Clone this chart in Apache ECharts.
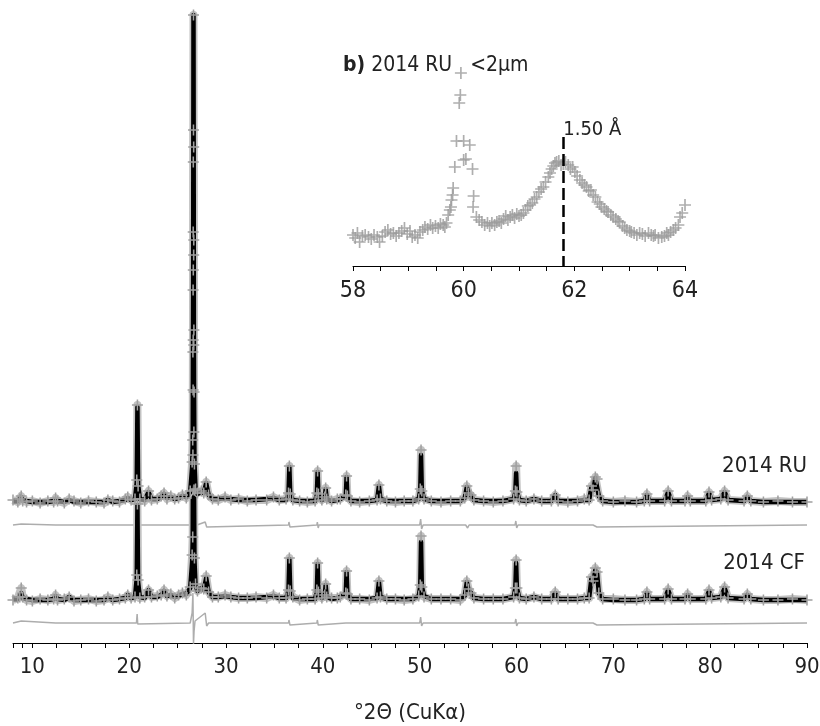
<!DOCTYPE html>
<html>
<head>
<meta charset="utf-8">
<script src="https://cdn.jsdelivr.net/npm/echarts@6/dist/echarts.min.js"></script>
<style>
html, body { margin: 0; padding: 0; background: #fff; }
#xrd { width: 820px; height: 726px; }
</style>
</head>
<body>
<div id="xrd"></div>
<script>
// baselines of the stacked patterns (y units = px above the x axis)
const RU_BASE = 141, CF_BASE = 43, RU_DIFF_BASE = 118, CF_DIFF_BASE = 20;

// main pattern, °2θ positions
const twoTheta = [8.0, 8.5, 8.7, 8.85, 9.0, 9.4, 10.0, 10.8, 11.6, 12.2, 12.4, 12.6, 13.3, 13.8, 14.3, 15.0, 15.8, 16.6, 17.4, 17.8, 18.3, 19.0, 19.6, 19.85, 20.2, 20.6,
  20.78, 20.85, 20.92, 21.1, 21.6, 22.0, 22.3, 22.9, 23.3, 23.6, 23.9, 24.3, 24.7, 25.1, 25.5, 25.9, 26.3,
  26.5, 26.56, 26.58, 26.6, 26.61, 26.62, 26.64, 26.66, 26.67, 26.68, 26.7, 26.74, 26.85, 27.05, 27.45, 27.7, 27.95, 28.2, 28.6,
  29.2, 29.9, 30.5, 31.3, 32.2, 33.1, 34.2, 34.9, 35.5, 36.2, 36.45, 36.54, 36.63, 36.9, 37.6, 38.4, 39.2, 39.38, 39.46, 39.54, 39.9,
  40.2, 40.29, 40.4, 40.9, 41.5, 41.8, 42.37, 42.45, 42.53, 42.9, 43.8, 44.8, 45.6, 45.79, 45.95, 46.6, 47.5, 48.4, 49.3, 49.9,
  50.06, 50.14, 50.22, 50.45, 51.2, 52.2, 53.2, 54.2, 54.65, 54.87, 55.05, 55.3, 55.6, 56.6, 57.6, 58.6, 59.7, 59.88, 59.96, 60.04,
  60.3, 61.0, 61.8, 62.6, 63.6, 64.0, 64.3, 65.3, 66.3, 67.0, 67.5, 67.74, 67.9, 68.14, 68.32, 68.5, 68.9, 70.0, 71.2, 72.4,
  73.2, 73.47, 73.75, 75.3, 75.66, 76.0, 77.4, 77.67, 77.95, 79.55, 79.88, 80.15, 81.1, 81.49, 81.85, 83.5, 83.84, 84.2,
  85.5, 87.0, 88.5, 90.0];

const ruCalc = [1, 1, 2, 5, 2, 1, 0, 0, 0, 1, 3, 1, 0, 2, 0, 0, 0, 0, 0, 2, 0, 1, 2, 4, 2, 3,
  20, 95, 18, 3, 2, 10, 3, 3, 5, 8, 4, 5, 3, 4, 6, 5, 10,
  35, 60, 144, 207, 274, 329, 487, 350, 259, 172, 110, 40, 14, 8, 10, 9, 19, 7, 3,
  3, 4, 3, 2, 2, 2, 3, 4, 2, 2, 8, 35, 8, 2, 1, 1, 1, 8, 30, 8, 2,
  4, 13, 3, 1, 2, 3, 6, 25, 6, 1, 1, 1, 2, 16, 3, 1, 1, 1, 1, 3,
  12, 47, 12, 3, 1, 1, 1, 1, 4, 15, 9, 6, 2, 1, 1, 1, 3, 10, 29, 10,
  2, 1, 3, 1, 1, 7, 1, 1, 1, 2, 2, 15, 12, 24, 22, 6, 1, 0, 0, 0,
  1, 7, 1, 1, 10, 1, 1, 5, 1, 1, 9, 2, 3, 10, 2, 1, 5, 1,
  0, 0, 0, 0];

const ruObs = [2, 0, 3, 6, 1, 0, 1, -1, 1, 0, 4, 1, -1, 3, 1, -1, 1, 0, -1, 2, 1, 0, 3, 5, 2, 3,
  22, 97, 16, 3, 1, 11, 2, 3, 6, 9, 3, 6, 3, 4, 7, 4, 11,
  40, 62, 150, 212, 270, 340, 487, 355, 262, 172, 110, 38, 13, 9, 11, 9, 20, 7, 3,
  2, 5, 2, 3, 1, 2, 2, 5, 2, 3, 9, 36, 8, 2, 1, 0, 1, 9, 31, 8, 2,
  5, 14, 3, 1, 3, 3, 7, 26, 6, 1, 0, 1, 2, 17, 3, 1, 0, 1, 1, 3,
  13, 52, 11, 3, 1, 0, 1, 1, 4, 16, 9, 7, 2, 1, 0, 1, 3, 11, 36, 10,
  2, 1, 3, 1, 1, 7, 1, 0, 1, 3, 2, 16, 12, 25, 23, 6, 1, 0, 1, 0,
  1, 8, 1, 1, 11, 1, 1, 6, 1, 1, 10, 2, 3, 11, 2, 1, 6, 1,
  0, 1, 0, 0];

const cfCalc = [1, 1, 2, 7, 2, 1, 0, 0, 0, 1, 4, 1, 0, 3, 0, 0, 0, 0, 0, 2, 0, 1, 2, 5, 2, 3,
  22, 95, 18, 3, 2, 10, 3, 3, 5, 9, 4, 5, 3, 4, 6, 6, 12,
  38, 60, 140, 200, 265, 320, 470, 340, 250, 170, 108, 40, 15, 9, 12, 10, 22, 8, 3,
  3, 4, 3, 2, 2, 2, 3, 4, 2, 2, 9, 41, 9, 2, 1, 1, 1, 9, 36, 9, 2,
  5, 15, 3, 1, 2, 3, 7, 28, 7, 1, 1, 1, 2, 18, 3, 1, 1, 1, 1, 4,
  14, 58, 14, 4, 1, 1, 1, 1, 4, 18, 10, 7, 2, 1, 1, 1, 3, 12, 37, 12,
  2, 1, 3, 1, 1, 7, 1, 1, 1, 2, 2, 22, 18, 30, 27, 7, 1, 0, 0, 0,
  1, 7, 1, 1, 10, 1, 1, 5, 1, 1, 9, 2, 3, 12, 2, 1, 5, 1,
  0, 0, 0, 0];

const cfObs = [0, 2, 3, 12, 3, 0, -1, 1, 0, 1, 5, 0, 1, 3, -1, 0, 1, -1, 0, 3, 0, 1, 2, 5, 2, 3,
  25, 96, 20, 2, 3, 10, 3, 4, 5, 10, 4, 6, 2, 5, 7, 5, 13,
  45, 63, 145, 210, 260, 330, 470, 345, 255, 168, 110, 42, 16, 9, 12, 11, 24, 8, 3,
  3, 5, 3, 2, 2, 3, 2, 5, 2, 2, 10, 42, 9, 3, 0, 1, 1, 10, 37, 8, 2,
  5, 16, 3, 2, 2, 3, 7, 29, 6, 1, 1, 0, 2, 19, 3, 1, 1, 0, 1, 4,
  15, 64, 13, 3, 1, 1, 1, 0, 5, 19, 11, 7, 2, 1, 1, 1, 3, 12, 40, 12,
  2, 1, 3, 1, 1, 8, 1, 1, 1, 2, 2, 23, 19, 32, 28, 7, 1, 1, 0, 0,
  1, 8, 1, 1, 11, 1, 1, 6, 1, 1, 10, 2, 3, 13, 2, 1, 6, 1,
  0, 0, 1, 0];

// difference curves
const diffTheta = [8.0, 8.85, 12.4, 20.0, 20.75, 20.82, 20.88, 21.0, 26.3, 26.5, 26.58, 26.64, 26.7, 26.8, 27.0, 27.85, 28.0, 28.2,
  36.45, 36.5, 36.6, 36.7, 39.38, 39.43, 39.52, 39.6, 42.37, 42.42, 42.5, 42.6, 45.7, 45.76, 45.84, 45.95,
  50.0, 50.1, 50.2, 50.35, 54.75, 54.84, 54.95, 55.1, 59.85, 59.93, 60.02, 60.15, 67.9, 68.1, 68.3, 68.5, 90.0];
const ruDiff = [0, 1, 0, 0, 0, 8, -3, 0, 0, 6, 15, -35, -8, 3, 0, 3, -2, 0,
  0, 3, -2, 0, 0, 3, -3, 0, 0, 2, -2, 0, 0, 2, -2, 0,
  0, 6, -4, 0, 0, 2, -3, 0, 0, 4, -3, 0, 0, 2, -2, 0, 0];
const cfDiff = [0, 2, 0, 0, 0, 9, -1, 0, 0, 10, 30, -21, -8, 2, 0, 10, -3, 0,
  0, 3, -2, 0, 0, 3, -2, 0, 0, 2, -2, 0, 0, 2, -2, 0,
  0, 6, -3, 0, 0, 2, -2, 0, 0, 4, -3, 0, 0, 2, -2, 0, 0];

// inset b) 2014 RU <2um, °2θ and counts (px above its axis)
const insetTheta = [58.00, 58.04, 58.08, 58.12, 58.17, 58.22, 58.28, 58.33, 58.38, 58.44, 58.48, 58.53, 58.58, 58.63, 58.68, 58.73,
  58.78, 58.83, 58.88, 58.93, 58.98, 59.03, 59.07, 59.12, 59.17, 59.21, 59.26, 59.30, 59.35, 59.40, 59.44, 59.49, 59.54, 59.58,
  59.63, 59.66, 59.69, 59.72, 59.75, 59.77, 59.78, 59.80, 59.81, 59.84, 59.87, 59.92, 59.94, 59.95, 60.00, 60.00, 60.04, 60.11,
  60.16, 60.17, 60.18, 60.23, 60.28, 60.33, 60.38, 60.43, 60.47, 60.51, 60.56, 60.60, 60.64, 60.68, 60.72, 60.76, 60.80, 60.84,
  60.88, 60.92, 60.96, 61.00, 61.04, 61.08, 61.12, 61.16, 61.20, 61.24, 61.28, 61.32, 61.36, 61.40, 61.44, 61.48, 61.53, 61.56,
  61.59, 61.62, 61.65, 61.68, 61.72, 61.76, 61.80, 61.84, 61.89, 61.93, 61.97, 62.01, 62.05, 62.10, 62.14, 62.18, 62.22, 62.26,
  62.30, 62.34, 62.38, 62.42, 62.46, 62.49, 62.54, 62.58, 62.61, 62.66, 62.70, 62.75, 62.79, 62.82, 62.87, 62.91, 62.95, 63.00,
  63.03, 63.08, 63.13, 63.18, 63.23, 63.28, 63.34, 63.39, 63.43, 63.46, 63.52, 63.58, 63.63, 63.67, 63.70, 63.74, 63.79, 63.83,
  63.88, 63.91, 63.95, 64.00];
const insetCounts = [31, 28, 33, 24, 30, 31, 29, 27, 31, 29, 24, 30, 34, 36, 32, 33,
  30, 33, 35, 38, 32, 35, 29, 31, 28, 34, 36, 39, 37, 41, 38, 40, 38, 42,
  41, 39, 43, 51, 56, 59, 66, 71, 78, 99, 125, 163, 171, 193, 125, 106, 107, 121,
  97, 59, 70, 49, 46, 44, 41, 43, 40, 43, 41, 44, 45, 43, 47, 50, 46, 49,
  51, 48, 52, 50, 51, 53, 56, 60, 61, 63, 67, 69, 74, 77, 79, 84, 89, 93,
  97, 100, 103, 104, 105, 101, 102, 104, 101, 97, 99, 94, 90, 86, 83, 81, 79, 75,
  76, 71, 69, 64, 62, 59, 57, 55, 54, 51, 49, 47, 45, 44, 40, 38, 36, 35,
  34, 33, 31, 33, 32, 30, 33, 31, 30, 31, 28, 29, 30, 33, 31, 34, 36, 38,
  41, 49, 53, 61];

const mainTicks = [8, 9, 10, 12.5, 15, 17.5, 20, 22.5, 25, 27.5, 30, 32.5, 35, 37.5, 40, 42.5, 45, 47.5, 50,
  52.5, 55, 57.5, 60, 62.5, 65, 67.5, 70, 72.5, 75, 77.5, 80, 82.5, 85, 87.5, 90];
const mainLabels = [10, 20, 30, 40, 50, 60, 70, 80, 90];
const insetLabels = [58, 60, 62, 64];

const FONT = '"Liberation Sans Narrow", "DejaVu Sans Condensed", "Roboto", sans-serif';
const CROSS = 'path://M4.3,0h1.4v4.3h4.3v1.4h-4.3v4.3h-1.4v-4.3h-4.3v-1.4h4.3z';

function shift(xs, ys, off) {
  return xs.map((x, i) => [x, ys[i] + off]);
}

function obsSeries(ys, off) {
  return {
    type: 'line', xAxisIndex: 0, yAxisIndex: 0,
    data: shift(twoTheta, ys, off),
    symbol: CROSS, symbolSize: 11, showSymbol: true,
    itemStyle: { color: '#a0a0a0' },
    lineStyle: { color: '#c2c2c2', width: 8, join: 'round' },
    silent: true
  };
}
function calcSeries(ys, off) {
  return {
    type: 'line', xAxisIndex: 0, yAxisIndex: 0,
    data: shift(twoTheta, ys, off),
    showSymbol: false,
    lineStyle: { color: '#000', width: 4.5, join: 'round' },
    silent: true
  };
}
function diffSeries(ys, off) {
  return {
    type: 'line', xAxisIndex: 0, yAxisIndex: 0,
    data: shift(diffTheta, ys, off),
    showSymbol: false,
    lineStyle: { color: '#adadad', width: 1.5 },
    silent: true
  };
}

var myChart = echarts.init(document.getElementById('xrd'));
myChart.setOption({
  animation: false,
  backgroundColor: '#fff',
  textStyle: { fontFamily: FONT },
  title: {
    text: '{b|b)} 2014 RU   <2μm',
    left: 338, top: 50,
    textStyle: {
      fontFamily: FONT, fontSize: 21, fontWeight: 'normal', color: '#222',
      rich: { b: { fontFamily: FONT, fontSize: 21, fontWeight: 'bold', color: '#222' } }
    }
  },
  grid: [
    { left: 13, right: 13, top: 15, bottom: 83, outerBoundsMode: 'none' },
    { left: 353, width: 332, top: 66, bottom: 460, outerBoundsMode: 'none' }
  ],
  xAxis: [
    {
      type: 'value', gridIndex: 0, min: 8, max: 90,
      splitLine: { show: false },
      axisLine: { lineStyle: { color: '#000', width: 1 } },
      axisTick: { customValues: mainTicks, length: 5, lineStyle: { color: '#000' } },
      axisLabel: { customValues: mainLabels, fontSize: 22, color: '#222', margin: 13, fontFamily: FONT },
      name: '°2Θ (CuKα)', nameLocation: 'middle', nameGap: 59,
      nameTextStyle: { fontSize: 22, color: '#222', fontFamily: FONT }
    },
    {
      type: 'value', gridIndex: 1, min: 58, max: 64, interval: 0.5,
      splitLine: { show: false },
      axisLine: { lineStyle: { color: '#000', width: 1 } },
      axisTick: { length: 5, lineStyle: { color: '#000' } },
      axisLabel: { customValues: insetLabels, fontSize: 23, color: '#222', margin: 14, fontFamily: FONT }
    }
  ],
  yAxis: [
    { type: 'value', gridIndex: 0, min: 0, max: 628, show: false },
    { type: 'value', gridIndex: 1, min: 0, max: 200, show: false }
  ],
  graphic: [
    { type: 'text', right: 13, top: 455, style: { text: '2014 RU', font: '22px ' + FONT, fill: '#222' } },
    { type: 'text', right: 15, top: 552, style: { text: '2014 CF', font: '22px ' + FONT, fill: '#222' } }
  ],
  series: [
    diffSeries(ruDiff, RU_DIFF_BASE),
    diffSeries(cfDiff, CF_DIFF_BASE),
    obsSeries(cfObs, CF_BASE),
    calcSeries(cfCalc, CF_BASE),
    obsSeries(ruObs, RU_BASE),
    calcSeries(ruCalc, RU_BASE),
    {
      type: 'scatter', xAxisIndex: 1, yAxisIndex: 1,
      data: shift(insetTheta, insetCounts, 0),
      symbol: CROSS, symbolSize: 12,
      itemStyle: { color: '#9a9a9a' },
      silent: true,
      markLine: {
        silent: true, symbol: 'none', animation: false,
        lineStyle: { color: '#000', width: 2.5, type: [12, 5] },
        label: {
          show: true, position: 'start', formatter: '1.50 Å',
          fontSize: 20, color: '#222', fontFamily: FONT, align: 'left', offset: [0, 8]
        },
        data: [[{ coord: [61.8, 129] }, { coord: [61.8, 0] }]]
      }
    }
  ]
});
</script>
</body>
</html>
